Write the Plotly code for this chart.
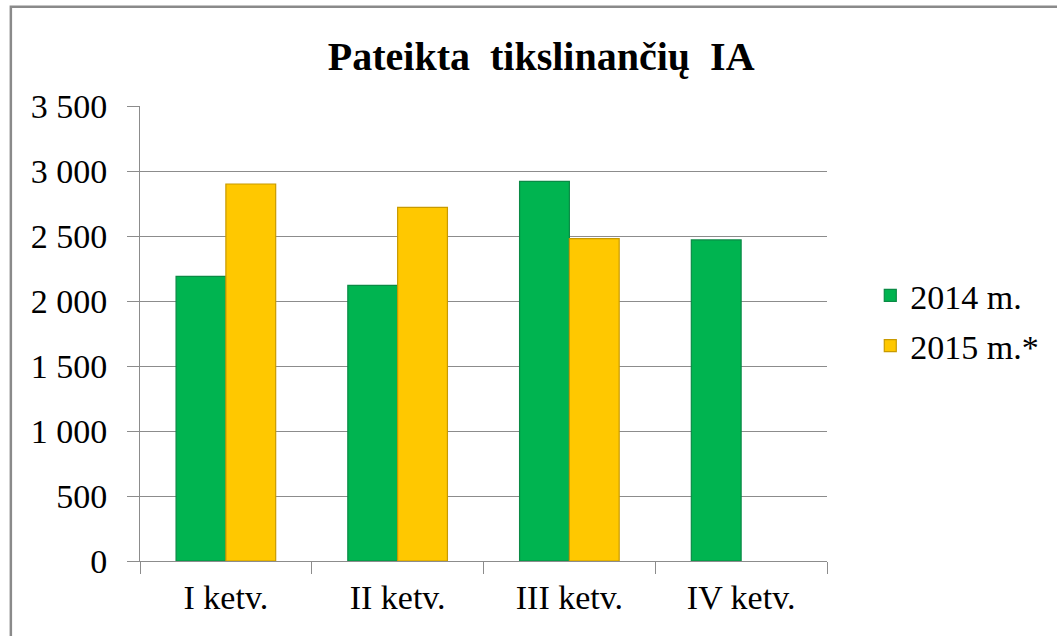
import plotly.graph_objects as go

categories = ["I ketv.", "II ketv.", "III ketv.", "IV ketv."]
series_names = ["2014 m.", "2015 m.*"]
values_2014 = [2190, 2120, 2920, 2470]
values_2015 = [2900, 2720, 2480, None]
y_ticks = [0, 500, 1000, 1500, 2000, 2500, 3000, 3500]
title_text = "Pateikta\u00a0 tikslinančių\u00a0 IA"

FONT = "Liberation Serif"

fig = go.Figure()
fig.add_trace(go.Bar(
    x=categories, y=values_2014, name=series_names[0], legendgroup="a",
    marker=dict(color="#00B450", line=dict(color="#0A8A45", width=1.2)),
))
fig.add_trace(go.Bar(
    x=categories, y=values_2015, name=series_names[1], legendgroup="b",
    marker=dict(color="#FFC800", line=dict(color="#C89A00", width=1.2)),
))

fig.update_layout(
    width=1057, height=636,
    margin=dict(l=140, r=230, t=106, b=75),
    paper_bgcolor="white", plot_bgcolor="white",
    separators=", ",
    font=dict(family=FONT, size=34, color="black"),
    title=dict(text="<b>" + title_text + "</b>", x=0.512, xanchor="center",
               y=0.912, yanchor="middle", font=dict(family=FONT, size=40, color="black")),
    barmode="group", bargap=0.42, bargroupgap=0,
    legend=dict(x=1.063, xanchor="left", y=0.528, yanchor="middle",
                traceorder="grouped", tracegroupgap=3,
                font=dict(family=FONT, size=34), bgcolor="rgba(0,0,0,0)"),
    showlegend=True,
)
fig.update_yaxes(range=[0, 3500], tickvals=y_ticks, tickformat=",d",
                 tickfont=dict(family=FONT, size=34),
                 showgrid=True, gridcolor="#8c8c8c", gridwidth=1,
                 showline=True, linecolor="#8c8c8c", linewidth=1,
                 ticks="outside", ticklen=12, tickcolor="#8c8c8c",
                 zeroline=False, ticklabelstandoff=13)
fig.update_xaxes(tickfont=dict(family=FONT, size=34),
                 showline=True, linecolor="#8c8c8c", linewidth=1,
                 ticks="outside", tickson="boundaries", ticklen=12, tickcolor="#8c8c8c",
                 showgrid=False, ticklabelstandoff=6)

# outer chart border (left & top visible as in the cropped reference)
fig.add_shape(type="rect", xref="paper", yref="paper",
              x0=-0.188, x1=1.6, y0=-0.5, y1=1.218,
              line=dict(color="#8a8a8a", width=2.5), fillcolor="rgba(0,0,0,0)", layer="below")

fig.write_html("out.html", config={"displayModeBar": False},
               post_script="document.body.style.margin='0';")
